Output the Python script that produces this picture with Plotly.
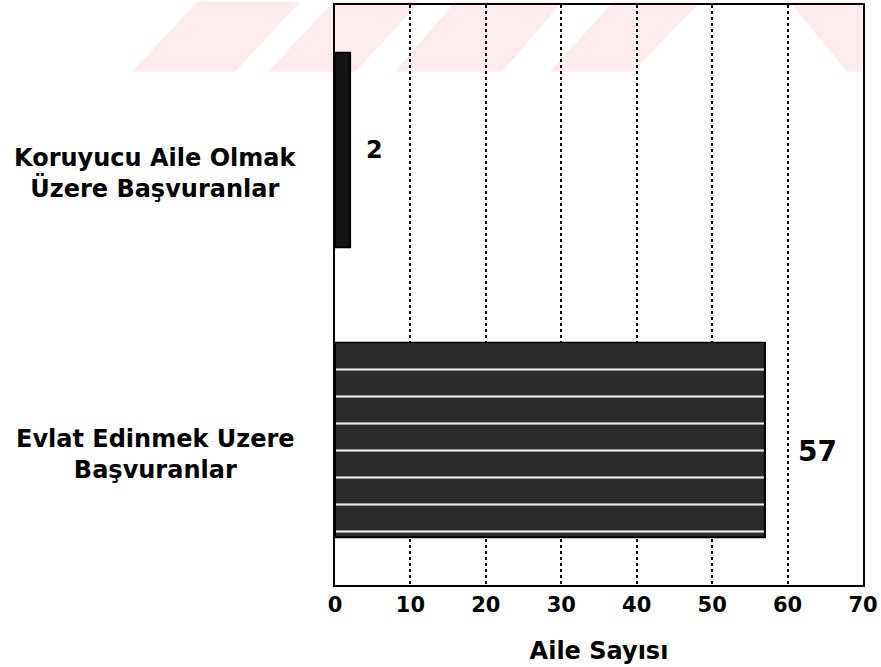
import plotly.graph_objects as go

# data
categories = ["Koruyucu Aile Olmak<br>Üzere Başvuranlar", "Evlat Edinmek Uzere<br>Başvuranlar"]
aile_sayisi = [2, 57]
x_ticks = [0, 10, 20, 30, 40, 50, 60, 70]

FONT = "DejaVu Sans"
W, H = 881, 667
L, R, T, B = 335, 18, 3, 82


def px_to_paper(x, y):
    # pixel position on the page -> paper coords of the plot area
    pw = W - L - R
    ph = H - T - B
    return (x - L) / pw, 1 - (y - T) / ph


def watermark_path(pts):
    parts = []
    for i, (x, y) in enumerate(pts):
        px, py = px_to_paper(x, y)
        parts.append(("M" if i == 0 else "L") + f"{px:.4f},{py:.4f}")
    return " ".join(parts) + " Z"


fig = go.Figure()

fig.add_trace(go.Bar(
    y=categories,
    x=aile_sayisi,
    orientation="h",
    width=0.67,
    marker=dict(
        color=["#141414", "#2b2b2b"],
        line=dict(color="black", width=2),
        pattern=dict(shape=["", "-"], fgcolor="white", fgopacity=0.9,
                     fillmode="overlay", size=27, solidity=0.08),
    ),
    showlegend=False,
    hoverinfo="skip",
))

# faint pink watermark stripes from the scan
stripes = [
    [(197, 0), (300, 0), (235, 70), (132, 70)],
    [(333, 0), (420, 0), (355, 70), (268, 70)],
    [(455, 0), (562, 0), (502, 70), (395, 70)],
    [(613, 0), (700, 0), (633, 70), (550, 70)],
    [(790, 0), (862, 0), (862, 70), (847, 70)],
]
for s in stripes:
    fig.add_shape(type="path", path=watermark_path(s), xref="paper", yref="paper",
                  fillcolor="#fdebee", line=dict(width=0), layer="below")

# category labels (centred, slightly below bar centre as in the scan)
label_shift = [-23, -14]
for cat, dy in zip(categories, label_shift):
    fig.add_annotation(
        x=px_to_paper(155, 0)[0], xref="paper", y=cat, yref="y",
        text=cat, showarrow=False, xanchor="center", align="center",
        yshift=dy, font=dict(family=FONT, size=24, color="black", weight="bold"),
    )

# value labels
val_shift = [(14, 0), (31, -11)]
val_size = [24, 28]
for cat, v, (dx, dy), fs in zip(categories, aile_sayisi, val_shift, val_size):
    fig.add_annotation(
        x=v, y=cat, text=str(v), showarrow=False, xanchor="left",
        xshift=dx, yshift=dy, font=dict(family=FONT, size=fs, color="black", weight="bold"),
    )

fig.update_layout(
    width=W, height=H,
    margin=dict(l=L, r=R, t=T, b=B, pad=0),
    paper_bgcolor="white",
    plot_bgcolor="rgba(0,0,0,0)",
    font=dict(family=FONT, color="black"),
)
fig.update_xaxes(
    range=[0, 70],
    tickvals=x_ticks,
    ticks="",
    ticklabelstandoff=0,
    tickfont=dict(family=FONT, size=21, color="black", weight="bold"),
    showgrid=True, gridcolor="black", gridwidth=1.5, griddash="dot",
    zeroline=False,
    showline=True, linecolor="black", linewidth=2, mirror=True,
    title=dict(text="Aile Sayısı", standoff=26,
               font=dict(family=FONT, size=24, color="black", weight="bold")),
    fixedrange=True,
)
fig.update_yaxes(
    categoryorder="array", categoryarray=categories,
    range=[1.5, -0.5],
    showticklabels=False, ticks="", showgrid=False, zeroline=False,
    showline=True, linecolor="black", linewidth=2, mirror=True,
    fixedrange=True,
)

# the page body has a default 8px margin; drop it so the figure fills the window
fig.write_html("out.html", config={"displayModeBar": False},
               post_script="document.body.style.margin='0px';")
